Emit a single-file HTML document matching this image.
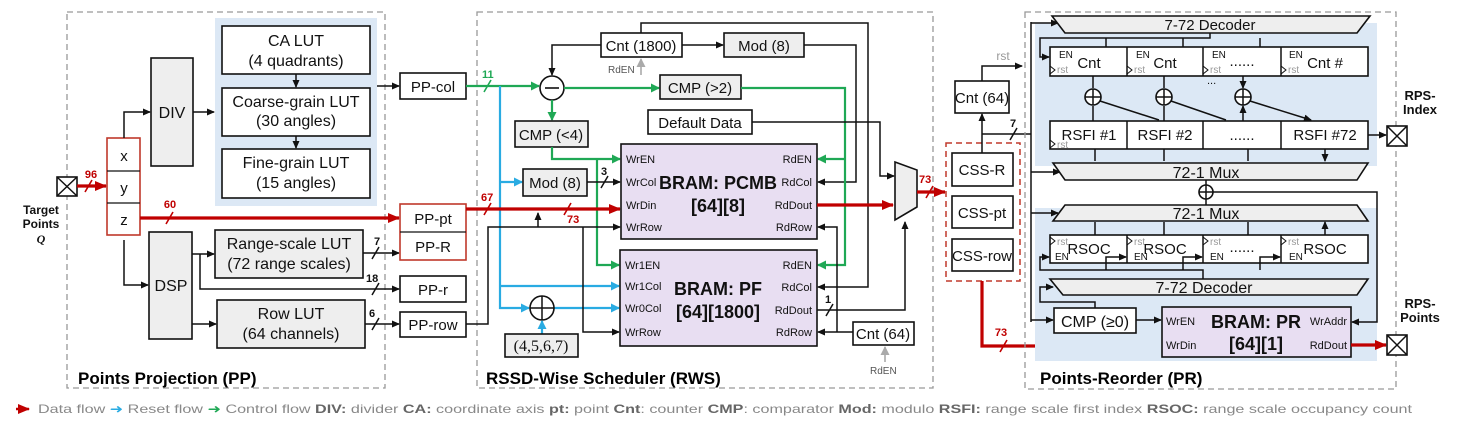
<!DOCTYPE html>
<html><head><meta charset="utf-8"><style>
html,body{margin:0;padding:0;background:#fff;}
svg{display:block;font-family:"Liberation Sans",sans-serif;}
.b{fill:#fff;stroke:#111;stroke-width:1.6}
.g{fill:#eeeeee;stroke:#111;stroke-width:1.6}
.p{fill:#e8def2;stroke:#111;stroke-width:1.6}
.r{fill:#fff;stroke:#c0392b;stroke-width:1.6}
.l{fill:none;stroke:#111;stroke-width:1.5}
.lr{fill:none;stroke:#c00000;stroke-width:3.2}
.lg{fill:none;stroke:#1fa855;stroke-width:2.2}
.lb{fill:none;stroke:#29abe2;stroke-width:2.2}
.d{fill:none;stroke:#999;stroke-width:1.3;stroke-dasharray:6 4}
.t{font-size:15px;fill:#111;text-anchor:middle}
.s{font-size:11px;fill:#111}
.gr{font-size:10px;fill:#999}
.bd{font-weight:bold}
</style></head><body>
<svg width="1457" height="425" viewBox="0 0 1457 425" xmlns="http://www.w3.org/2000/svg">
<defs>
<marker id="ak" markerWidth="8" markerHeight="8" refX="7" refY="4" orient="auto" markerUnits="userSpaceOnUse"><path d="M0,0.5 L8,4 L0,7.5z" fill="#111"/></marker>
<marker id="ar" markerWidth="12" markerHeight="10" refX="11" refY="5" orient="auto" markerUnits="userSpaceOnUse"><path d="M0,0 L12,5 L0,10z" fill="#c00000"/></marker>
<marker id="ag" markerWidth="9" markerHeight="9" refX="8" refY="4.5" orient="auto" markerUnits="userSpaceOnUse"><path d="M0,0 L9,4.5 L0,9z" fill="#1fa855"/></marker>
<marker id="ab" markerWidth="9" markerHeight="9" refX="8" refY="4.5" orient="auto" markerUnits="userSpaceOnUse"><path d="M0,0 L9,4.5 L0,9z" fill="#29abe2"/></marker>
<marker id="ay" markerWidth="9" markerHeight="9" refX="8" refY="4.5" orient="auto" markerUnits="userSpaceOnUse"><path d="M0,0 L9,4.5 L0,9z" fill="#aaa"/></marker>
</defs>

<!-- ========== PANEL 1 ========== -->
<rect x="67" y="12" width="318" height="376" class="d"/>
<rect x="215" y="18" width="162" height="188" fill="#dce8f5"/>
<rect x="222" y="26" width="148" height="48" class="b"/>
<text x="296" y="46" class="t" style="font-size:16px">CA LUT</text><text x="296" y="66" class="t" style="font-size:16px">(4 quadrants)</text>
<rect x="222" y="88" width="148" height="48" class="b"/>
<text x="296" y="107" class="t" style="font-size:16px">Coarse-grain LUT</text><text x="296" y="126" class="t" style="font-size:16px">(30 angles)</text>
<rect x="222" y="149" width="148" height="49" class="b"/>
<text x="296" y="168" class="t" style="font-size:16px">Fine-grain LUT</text><text x="296" y="188" class="t" style="font-size:16px">(15 angles)</text>
<path d="M296,74 V87" class="l" marker-end="url(#ak)"/><path d="M296,136 V148" class="l" marker-end="url(#ak)"/>
<rect x="151" y="58" width="42" height="108" class="g"/><text x="172" y="118" class="t" style="font-size:16px">DIV</text>
<rect x="107" y="138" width="33" height="97" class="r"/>
<line x1="107" y1="171" x2="140" y2="171" stroke="#111" stroke-width="1.2"/><line x1="107" y1="203" x2="140" y2="203" stroke="#111" stroke-width="1.2"/>
<text x="124" y="161" class="t">x</text><text x="124" y="193" class="t">y</text><text x="124" y="225" class="t">z</text>
<rect x="57" y="177" width="20" height="19" class="b"/><path d="M57,177 L77,196 M77,177 L57,196" class="l"/>
<text x="41" y="214" class="t bd" style="font-size:12px">Target</text><text x="41" y="228" class="t bd" style="font-size:12px">Points</text><text x="41" y="243" class="t bd" style="font-size:12px;font-style:italic;font-family:'Liberation Serif',serif">Q</text>
<path d="M77,186 H106" class="lr" marker-end="url(#ar)"/><path d="M85,192 L92,180" stroke="#c00000" stroke-width="1.6"/>
<text x="91" y="178" class="s bd" style="fill:#c00000;text-anchor:middle">96</text>
<path d="M124,138 V112 H150" class="l" marker-end="url(#ak)"/>
<path d="M193,112 H214" class="l" marker-end="url(#ak)"/>
<path d="M377,86 H399" class="l" marker-end="url(#ak)"/>
<path d="M140,218 H399" class="lr" marker-end="url(#ar)"/><path d="M166,224 L173,212" stroke="#c00000" stroke-width="1.6"/>
<text x="170" y="208" class="s bd" style="fill:#c00000;text-anchor:middle">60</text>
<path d="M124,240 V285 H148" class="l" marker-end="url(#ak)"/>
<rect x="149" y="232" width="43" height="107" class="g"/><text x="171" y="291" class="t" style="font-size:16px">DSP</text>
<rect x="215" y="230" width="148" height="48" class="g"/>
<text x="289" y="249" class="t" style="font-size:16px">Range-scale LUT</text><text x="289" y="269" class="t" style="font-size:16px">(72 range scales)</text>
<rect x="217" y="300" width="148" height="48" class="g"/>
<text x="291" y="319" class="t" style="font-size:16px">Row LUT</text><text x="291" y="339" class="t" style="font-size:16px">(64 channels)</text>
<path d="M192,254 H214" class="l" marker-end="url(#ak)"/>
<path d="M200,254 V289 H399" class="l" marker-end="url(#ak)"/>
<path d="M192,324 H216" class="l" marker-end="url(#ak)"/>
<path d="M363,253 H399" class="l" marker-end="url(#ak)"/><path d="M372,259 L379,247" class="l"/><text x="374" y="245" class="s bd">7</text>
<path d="M372,295 L379,283" class="l"/><text x="366" y="282" class="s bd">18</text>
<path d="M365,324 H399" class="l" marker-end="url(#ak)"/><path d="M372,330 L379,318" class="l"/><text x="369" y="317" class="s bd">6</text>
<rect x="400" y="73" width="66" height="26" class="b"/><text x="433" y="92" class="t">PP-col</text>
<rect x="400" y="204" width="66" height="56" class="r"/><line x1="400" y1="232" x2="466" y2="232" stroke="#111" stroke-width="1.2"/>
<text x="433" y="224" class="t">PP-pt</text><text x="433" y="252" class="t">PP-R</text>
<rect x="400" y="276" width="66" height="26" class="b"/><text x="433" y="295" class="t">PP-r</text>
<rect x="400" y="312" width="66" height="25" class="b"/><text x="433" y="330" class="t">PP-row</text>
<text x="78" y="384" class="bd" style="font-size:17px">Points Projection (PP)</text>

<!-- ========== PANEL 2 ========== -->
<rect x="477" y="12" width="456" height="376" class="d"/>
<rect x="601" y="33" width="81" height="24" class="b"/><text x="641" y="51" class="t">Cnt (1800)</text>
<rect x="724" y="33" width="80" height="24" class="g"/><text x="764" y="51" class="t">Mod (8)</text>
<path d="M682,45 H723" class="l" marker-end="url(#ak)"/>
<path d="M601,45 H552 V75" class="l" marker-end="url(#ak)"/>
<path d="M641,33 V23 H868 V287 H818" class="l" marker-end="url(#ak)"/>
<path d="M804,45 H856 V182 H818" class="l" marker-end="url(#ak)"/>
<path d="M641,75 V59" stroke="#aaa" stroke-width="1.6" marker-end="url(#ay)"/><text x="608" y="73" class="gr" style="fill:#555">RdEN</text>
<circle cx="552" cy="88" r="12" class="b"/><line x1="545" y1="88" x2="559" y2="88" stroke="#111" stroke-width="1.6"/>
<path d="M466,86 H539" class="lg" marker-end="url(#ag)"/><path d="M484,92 L491,80" stroke="#1fa855" stroke-width="1.6"/><text x="482" y="78" class="s bd" style="fill:#1fa855">11</text>
<path d="M564,88 H659" class="lg" marker-end="url(#ag)"/>
<rect x="660" y="75" width="81" height="24" class="g"/><text x="700" y="93" class="t">CMP (&gt;2)</text>
<path d="M741,88 H845 V265 H818" class="lg" marker-end="url(#ag)"/><path d="M845,159 H818" class="lg" marker-end="url(#ag)"/>
<path d="M552,100 V120" class="lg" marker-end="url(#ag)"/>
<rect x="515" y="121" width="73" height="26" class="g"/><text x="551" y="140" class="t">CMP (&lt;4)</text>
<path d="M552,147 V159 H620" class="lg" marker-end="url(#ag)"/><path d="M597,159 V265 H619" class="lg" marker-end="url(#ag)"/>
<rect x="648" y="110" width="104" height="24" class="b"/><text x="700" y="128" class="t">Default Data</text>
<path d="M752,122 H880 V176 H894" class="l" marker-end="url(#ak)"/>
<path d="M500,86 V308 H529" class="lb" marker-end="url(#ab)"/>
<path d="M500,182 H522" class="lb" marker-end="url(#ab)"/>
<path d="M500,286 H619" class="lb" marker-end="url(#ab)"/>
<path d="M554,308 H619" class="lb" marker-end="url(#ab)"/>
<rect x="523" y="169" width="64" height="27" class="g"/><text x="555" y="188" class="t">Mod (8)</text>
<path d="M587,182 H620" class="l" marker-end="url(#ak)"/><path d="M601,188 L608,176" class="l"/><text x="601" y="175" class="s bd">3</text>
<path d="M466,209 H620" class="lr" marker-end="url(#ar)"/>
<path d="M484,215 L491,203" stroke="#c00000" stroke-width="1.6"/><text x="481" y="201" class="s bd" style="fill:#c00000">67</text>
<path d="M564,215 L571,203" stroke="#c00000" stroke-width="1.6"/><text x="567" y="223" class="s bd" style="fill:#c00000">73</text>
<path d="M538,227 V213" class="l" marker-end="url(#ak)"/>
<path d="M466,324 H488 V227 H620" class="l" marker-end="url(#ak)"/>
<path d="M583,227 V332 H619" class="l" marker-end="url(#ak)"/>
<circle cx="542" cy="308" r="12" class="b"/><path d="M530,308 H554 M542,296 V320" class="l"/>
<path d="M542,334 V321" class="lb" marker-end="url(#ab)"/>
<rect x="505" y="334" width="73" height="23" class="g"/><text x="541" y="351" class="t" style="font-family:'Liberation Serif',serif;font-size:16px">(4,5,6,7)</text>
<rect x="621" y="144" width="196" height="95" class="p"/>
<text x="626" y="163" class="s">WrEN</text><text x="626" y="186" class="s">WrCol</text><text x="626" y="209" class="s">WrDin</text><text x="626" y="231" class="s">WrRow</text>
<text x="812" y="163" class="s" style="text-anchor:end">RdEN</text><text x="812" y="186" class="s" style="text-anchor:end">RdCol</text><text x="812" y="209" class="s" style="text-anchor:end">RdDout</text><text x="812" y="231" class="s" style="text-anchor:end">RdRow</text>
<text x="718" y="189" class="t bd" style="font-size:18px">BRAM: PCMB</text><text x="718" y="212" class="t bd" style="font-size:18px">[64][8]</text>
<rect x="620" y="250" width="197" height="96" class="p"/>
<text x="625" y="269" class="s">Wr1EN</text><text x="625" y="290" class="s">Wr1Col</text><text x="625" y="312" class="s">Wr0Col</text><text x="625" y="336" class="s">WrRow</text>
<text x="812" y="269" class="s" style="text-anchor:end">RdEN</text><text x="812" y="291" class="s" style="text-anchor:end">RdCol</text><text x="812" y="314" class="s" style="text-anchor:end">RdDout</text><text x="812" y="336" class="s" style="text-anchor:end">RdRow</text>
<text x="718" y="295" class="t bd" style="font-size:18px">BRAM: PF</text><text x="718" y="318" class="t bd" style="font-size:18px">[64][1800]</text>
<path d="M817,205 H893" class="lr" marker-end="url(#ar)"/>
<path d="M817,310 H905 V222" class="l" marker-end="url(#ak)"/><path d="M826,316 L833,304" class="l"/><text x="825" y="303" class="s bd">1</text>
<rect x="853" y="322" width="61" height="23" class="b"/><text x="883" y="339" class="t">Cnt (64)</text>
<path d="M853,332 H818" class="l" marker-end="url(#ak)"/><path d="M837,332 V227 H818" class="l" marker-end="url(#ak)"/>
<path d="M885,362 V347" stroke="#aaa" stroke-width="1.6" marker-end="url(#ay)"/><text x="870" y="374" class="gr" style="fill:#555">RdEN</text>
<path d="M895,162 L917,170 L917,207 L895,220 Z" class="g"/>
<path d="M917,192 H945" class="lr" marker-end="url(#ar)"/><path d="M926,198 L933,186" stroke="#c00000" stroke-width="1.6"/><text x="919" y="183" class="s bd" style="fill:#c00000">73</text>
<text x="486" y="384" class="bd" style="font-size:17px">RSSD-Wise Scheduler (RWS)</text>

<!-- ========== PANEL 3 ========== -->
<rect x="946" y="143" width="74" height="138" fill="none" stroke="#c0392b" stroke-width="1.5" stroke-dasharray="6 4"/>
<rect x="952" y="153" width="61" height="33" class="b"/><text x="982" y="175" class="t">CSS-R</text>
<rect x="952" y="196" width="61" height="32" class="b"/><text x="982" y="218" class="t">CSS-pt</text>
<rect x="952" y="239" width="61" height="32" class="b"/><text x="982" y="261" class="t">CSS-row</text>
<rect x="955" y="81" width="54" height="32" class="b"/><text x="982" y="103" class="t">Cnt (64)</text>
<path d="M982,153 V114" class="l" marker-end="url(#ak)"/>
<path d="M982,134 H1031" class="l"/><path d="M1010,140 L1017,128" class="l"/><text x="1010" y="127" class="s bd">7</text>
<path d="M982,81 V66 H1022" class="l" marker-end="url(#ak)"/><text x="1003" y="60" class="gr" style="font-size:12px;text-anchor:middle">rst</text>
<path d="M982,281 V346 H1161" class="lr" marker-end="url(#ar)"/><path d="M1000,352 L1007,340" stroke="#c00000" stroke-width="1.6"/><text x="1001" y="336" class="s bd" style="fill:#c00000;text-anchor:middle">73</text>
<rect x="1025" y="12" width="371" height="377" class="d"/>
<rect x="1035" y="23" width="342" height="143" fill="#dce8f5"/>
<rect x="1035" y="208" width="342" height="153" fill="#dce8f5"/>
<path d="M1031,22 V322" class="l"/>
<path d="M1031,23 H1058" class="l" marker-end="url(#ak)"/>
<path d="M1031,172 H1060" class="l" marker-end="url(#ak)"/>
<path d="M1031,213 H1058" class="l" marker-end="url(#ak)"/>
<path d="M1031,320 H1053" class="l" marker-end="url(#ak)"/>
<path d="M1052,16 L1370,16 L1357,33 L1065,33 Z" class="g"/><text x="1210" y="30" class="t">7-72 Decoder</text>
<path d="M1210,33 V38 H1040 V57 H1049" class="l" marker-end="url(#ak)"/>
<path d="M1106,38 V57 H1126" class="l" marker-end="url(#ak)"/>
<path d="M1183,38 V57 H1202" class="l" marker-end="url(#ak)"/>
<path d="M1260,38 V57 H1280" class="l" marker-end="url(#ak)"/>
<rect x="1050" y="47" width="318" height="29" class="b"/>
<path d="M1127,47 V76 M1203,47 V76 M1281,47 V76" class="l"/>
<g class="s" style="font-size:10px"><text x="1059" y="58">EN</text><text x="1136" y="58">EN</text><text x="1212" y="58">EN</text><text x="1289" y="58">EN</text></g>
<g class="gr"><text x="1057" y="73">rst</text><text x="1134" y="73">rst</text><text x="1210" y="73">rst</text><text x="1288" y="73">rst</text></g>
<path d="M1050,66 L1055,70 L1050,74 M1127,66 L1132,70 L1127,74 M1203,66 L1208,70 L1203,74 M1281,66 L1286,70 L1281,74" class="l" style="stroke-width:1"/>
<text x="1089" y="68" class="t">Cnt</text><text x="1165" y="68" class="t">Cnt</text><text x="1242" y="66" class="t">......</text><text x="1325" y="68" class="t">Cnt #</text>
<text x="1207" y="84" class="s">...</text>
<g>
<circle cx="1093" cy="97" r="8" class="b"/><path d="M1085,97 H1101 M1093,89 V105" class="l"/>
<circle cx="1164" cy="97" r="8" class="b"/><path d="M1156,97 H1172 M1164,89 V105" class="l"/>
<circle cx="1243" cy="97" r="8" class="b"/><path d="M1235,97 H1251 M1243,89 V105" class="l"/>
</g>
<path d="M1093,76 V88 M1164,76 V88 M1243,76 V88" class="l" marker-end="url(#ak)"/>
<path d="M1093,121 V106 M1164,121 V106 M1243,121 V106" class="l" marker-end="url(#ak)"/>
<path d="M1100,101 L1159,120 M1171,101 L1226,120 M1250,101 L1311,120" class="l" marker-end="url(#ak)"/>
<rect x="1050" y="121" width="318" height="28" class="b"/>
<path d="M1127,121 V149 M1203,121 V149 M1281,121 V149" class="l"/>
<text x="1089" y="140" class="t">RSFI #1</text><text x="1165" y="140" class="t">RSFI #2</text><text x="1242" y="140" class="t">......</text><text x="1325" y="140" class="t">RSFI #72</text>
<text x="1057" y="148" class="gr">rst</text><path d="M1050,140 L1055,144 L1050,148" class="l" style="stroke-width:1"/>
<path d="M1095,149 V161 M1164,149 V161 M1248,149 V161 M1325,149 V161" class="l" marker-end="url(#ak)"/>
<path d="M1368,135 H1386" class="l" marker-end="url(#ak)"/>
<path d="M1053,163 L1368,163 L1357,180 L1065,180 Z" class="g"/><text x="1206" y="178" class="t" style="font-size:16px">72-1 Mux</text>
<circle cx="1206" cy="192" r="7" class="b"/><path d="M1199,192 H1213 M1206,185 V199" class="l"/>
<path d="M1206,180 V185 M1206,199 V205" class="l"/>
<path d="M1213,192 H1377 V322 H1352" class="l" marker-end="url(#ak)"/>
<path d="M1065,205 L1357,205 L1368,221 L1053,221 Z" class="g"/><text x="1206" y="219" class="t" style="font-size:16px">72-1 Mux</text>
<path d="M1095,235 V222 M1164,235 V222 M1248,235 V222 M1325,235 V222" class="l" marker-end="url(#ak)"/>
<rect x="1050" y="235" width="318" height="28" class="b"/>
<path d="M1127,235 V263 M1203,235 V263 M1281,235 V263" class="l"/>
<g class="gr"><text x="1057" y="245">rst</text><text x="1134" y="245">rst</text><text x="1210" y="245">rst</text><text x="1288" y="245">rst</text></g>
<path d="M1050,237 L1055,241 L1050,245 M1127,237 L1132,241 L1127,245 M1203,237 L1208,241 L1203,245 M1281,237 L1286,241 L1281,245" class="l" style="stroke-width:1"/>
<g class="s" style="font-size:10px"><text x="1055" y="260">EN</text><text x="1134" y="260">EN</text><text x="1210" y="260">EN</text><text x="1289" y="260">EN</text></g>
<text x="1089" y="254" class="t">RSOC</text><text x="1165" y="254" class="t">RSOC</text><text x="1242" y="252" class="t">......</text><text x="1325" y="254" class="t">RSOC</text>
<path d="M1203,279 V270 H1040 V257 H1049" class="l" marker-end="url(#ak)"/>
<path d="M1106,270 V257 H1126" class="l" marker-end="url(#ak)"/>
<path d="M1183,270 V257 H1202" class="l" marker-end="url(#ak)"/>
<path d="M1260,270 V257 H1280" class="l" marker-end="url(#ak)"/>
<path d="M1050,279 L1368,279 L1357,295 L1063,295 Z" class="g"/><text x="1204" y="293" class="t" style="font-size:16px">7-72 Decoder</text>
<path d="M1095,308 V302 H1040 V287 H1053" class="l" marker-end="url(#ak)"/>
<rect x="1054" y="308" width="82" height="25" class="b"/><text x="1095" y="327" class="t" style="font-size:16px">CMP (≥0)</text>
<path d="M1136,320 H1161" class="l" marker-end="url(#ak)"/>
<rect x="1162" y="307" width="189" height="50" class="p"/>
<text x="1166" y="325" class="s">WrEN</text><text x="1166" y="349" class="s">WrDin</text>
<text x="1347" y="325" class="s" style="text-anchor:end">WrAddr</text><text x="1347" y="349" class="s" style="text-anchor:end">RdDout</text>
<text x="1256" y="328" class="t bd" style="font-size:18px">BRAM: PR</text><text x="1256" y="350" class="t bd" style="font-size:18px">[64][1]</text>
<path d="M1351,345 H1386" class="lr" marker-end="url(#ar)"/>
<rect x="1387" y="126" width="20" height="20" class="b"/><path d="M1387,126 L1407,146 M1407,126 L1387,146" class="l"/>
<rect x="1387" y="335" width="20" height="20" class="b"/><path d="M1387,335 L1407,355 M1407,335 L1387,355" class="l"/>
<text x="1420" y="100" class="t bd" style="font-size:13px">RPS-</text><text x="1420" y="114" class="t bd" style="font-size:13px">Index</text>
<text x="1420" y="308" class="t bd" style="font-size:13px">RPS-</text><text x="1420" y="322" class="t bd" style="font-size:13px">Points</text>
<text x="1040" y="384" class="bd" style="font-size:17px">Points-Reorder (PR)</text>

<path d="M16,409 H29" class="lr" style="stroke-width:2.5" marker-end="url(#ar)"/>
<text x="38" y="413" style="font-size:12px;fill:#888" textLength="1374" lengthAdjust="spacingAndGlyphs">Data flow <tspan fill="#29abe2">➜</tspan> Reset flow <tspan fill="#1fa855">➜</tspan> Control flow  <tspan font-weight="bold" fill="#666">DIV:</tspan> divider  <tspan font-weight="bold" fill="#666">CA:</tspan> coordinate axis  <tspan font-weight="bold" fill="#666">pt:</tspan> point  <tspan font-weight="bold" fill="#666">Cnt</tspan>: counter  <tspan font-weight="bold" fill="#666">CMP</tspan>: comparator  <tspan font-weight="bold" fill="#666">Mod:</tspan> modulo  <tspan font-weight="bold" fill="#666">RSFI:</tspan> range scale first index  <tspan font-weight="bold" fill="#666">RSOC:</tspan> range scale occupancy count</text>
</svg>
</body></html>
